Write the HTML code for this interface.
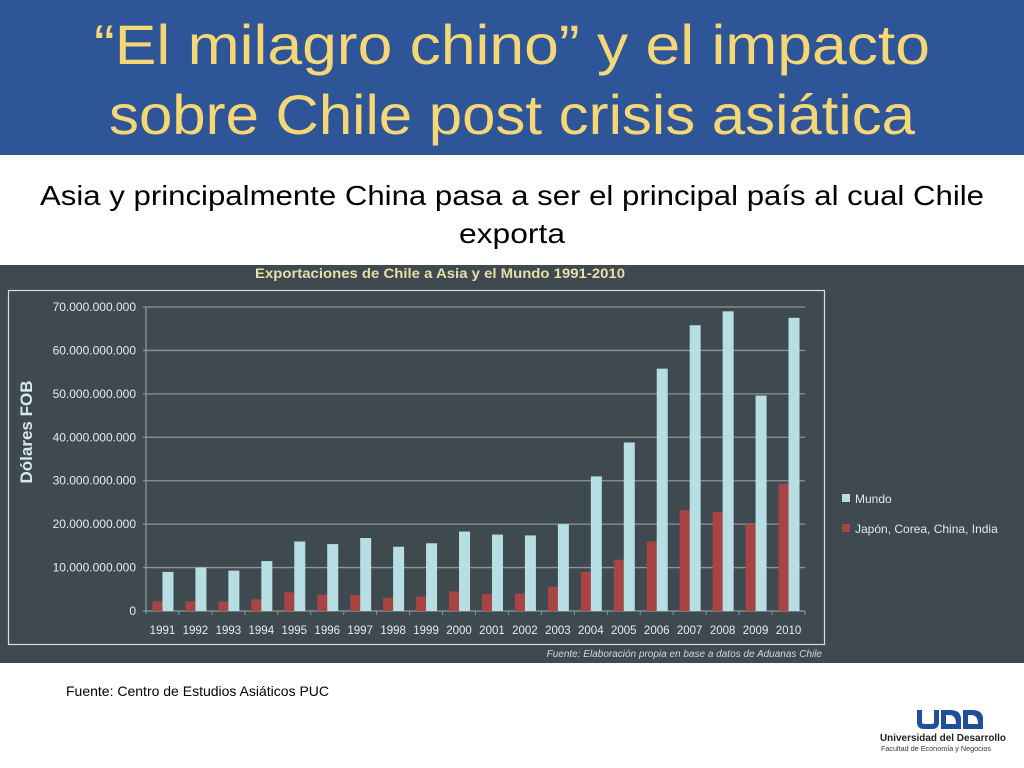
<!DOCTYPE html>
<html><head><meta charset="utf-8"><style>
body{margin:0;width:1024px;height:768px;overflow:hidden;background:#fff;font-family:"Liberation Sans",sans-serif}
svg{display:block}
</style></head><body>
<svg width="1024" height="768">
<rect x="0" y="0" width="1024" height="155" fill="#2e5597"/>
<text x="512" y="64" text-anchor="middle" font-size="56" fill="#f6d776" textLength="836" lengthAdjust="spacingAndGlyphs">“El milagro chino” y el impacto</text>
<text x="512" y="134" text-anchor="middle" font-size="56" fill="#f6d776" textLength="806" lengthAdjust="spacingAndGlyphs">sobre Chile post crisis asiática</text>
<text x="512" y="205" text-anchor="middle" font-size="28" fill="#000" textLength="944" lengthAdjust="spacingAndGlyphs">Asia y principalmente China pasa a ser el principal país al cual Chile</text>
<text x="512" y="243" text-anchor="middle" font-size="28" fill="#000" textLength="106" lengthAdjust="spacingAndGlyphs">exporta</text>
<rect x="0" y="265" width="1024" height="398" fill="#3f4a50"/>
<text x="440" y="278" text-anchor="middle" font-size="14" font-weight="bold" fill="#e8dfa8" textLength="370" lengthAdjust="spacingAndGlyphs">Exportaciones de Chile a Asia y el Mundo 1991-2010</text>
<rect x="8.5" y="290.5" width="816" height="354" fill="none" stroke="#d8dcdc" stroke-width="1.2"/>
<text transform="translate(32,432) rotate(-90)" text-anchor="middle" font-size="17" font-weight="bold" fill="#d8e8ea">Dólares FOB</text>
<g id="chart"></g>
<text x="822" y="657" text-anchor="end" font-size="10" font-style="italic" fill="#d0d8da">Fuente: Elaboración propia en base a datos de Aduanas Chile</text>
<rect x="842" y="494" width="8" height="8" fill="#b7dfe3"/>
<text x="855" y="503" font-size="12" fill="#e0e8ea">Mundo</text>
<rect x="842" y="524" width="8" height="8" fill="#a84444"/>
<text x="855" y="533" font-size="12" fill="#e0e8ea">Japón, Corea, China, India</text>
<text x="66" y="696" font-size="14" fill="#000">Fuente: Centro de Estudios Asiáticos PUC</text>
<g>
<path d="M917 710 v12 q0 7 7 7 h8 q7 0 7-7 v-12 h-5 v12 q0 2-2 2 h-8 q-2 0-2-2 v-12z" fill="#1f4f9a"/>
<path d="M941 710 h9 q11 0 11 9 v10 h-20z M946 715 v9 h10 q0-9-7-9z" fill="#1f4f9a" fill-rule="evenodd"/>
<path d="M963 710 h9 q11 0 11 9 v10 h-20z M968 715 v9 h10 q0-9-7-9z" fill="#1f4f9a" fill-rule="evenodd"/>
<text x="943" y="741" text-anchor="middle" font-size="10" font-weight="bold" fill="#222" textLength="126" lengthAdjust="spacingAndGlyphs">Universidad del Desarrollo</text>
<text x="936" y="751" text-anchor="middle" font-size="7" fill="#333" textLength="110" lengthAdjust="spacingAndGlyphs">Facultad de Economía y Negocios</text>
</g>
</svg>
<script>
const years=["1991","1992","1993","1994","1995","1996","1997","1998","1999","2000","2001","2002","2003","2004","2005","2006","2007","2008","2009","2010"];
const mundo=[9.0,10.0,9.3,11.5,16.0,15.4,16.8,14.8,15.6,18.3,17.6,17.4,20.0,31.0,38.8,55.8,65.8,69.0,49.6,67.5];
const asia=[2.2,2.2,2.2,2.7,4.3,3.8,3.7,3.0,3.3,4.5,3.9,4.0,5.6,9.0,11.8,16.0,23.2,22.8,20.0,29.3];
const yTicks=[0,10,20,30,40,50,60,70];
const yTickLabels=["0","10.000.000.000","20.000.000.000","30.000.000.000","40.000.000.000","50.000.000.000","60.000.000.000","70.000.000.000"];
const NS="http://www.w3.org/2000/svg";
const g=document.getElementById('chart');
const x0=146,x1=805,y0=611,yTop=307,yMax=70;
const band=(x1-x0)/years.length;
const yS=v=>y0-(v/yMax)*(y0-yTop);
const xS=i=>x0+band*i+band/2;
function mk(t,a){const e=document.createElementNS(NS,t);for(const k in a)e.setAttribute(k,a[k]);g.appendChild(e);return e;}
yTicks.forEach((v,i)=>{
 const l=mk('line',{x1:x0-3,x2:x1,y1:yS(v),y2:yS(v),stroke:'#8c9698','stroke-width':1.3});
 
 
 const t=mk('text',{x:x0-10,y:yS(v)+4,'text-anchor':'end','font-size':12,fill:'#e4ecee'});
 t.textContent=yTickLabels[i];
 
 
});
const ax=mk('line',{x1:x0,x2:x0,y1:yTop,y2:y0+3,stroke:'#8c9698','stroke-width':1.3});


years.forEach((yr,i)=>{
 const c=xS(i);
 const tk=mk('line',{x1:x0+band*(i+1),x2:x0+band*(i+1),y1:y0,y2:y0+4,stroke:'#8c9698'});
 
 
 const r=mk('rect',{x:c-10,y:yS(asia[i]),width:10,height:y0-yS(asia[i]),fill:'#a84444'});
 
 
 const b=mk('rect',{x:c,y:yS(mundo[i]),width:11,height:y0-yS(mundo[i]),fill:'#b7dfe3'});
 
 
 const t=mk('text',{x:c,y:634,'text-anchor':'middle','font-size':11.5,fill:'#e4ecee'});
 t.textContent=yr;
 
 
});
</script>
</body></html>
